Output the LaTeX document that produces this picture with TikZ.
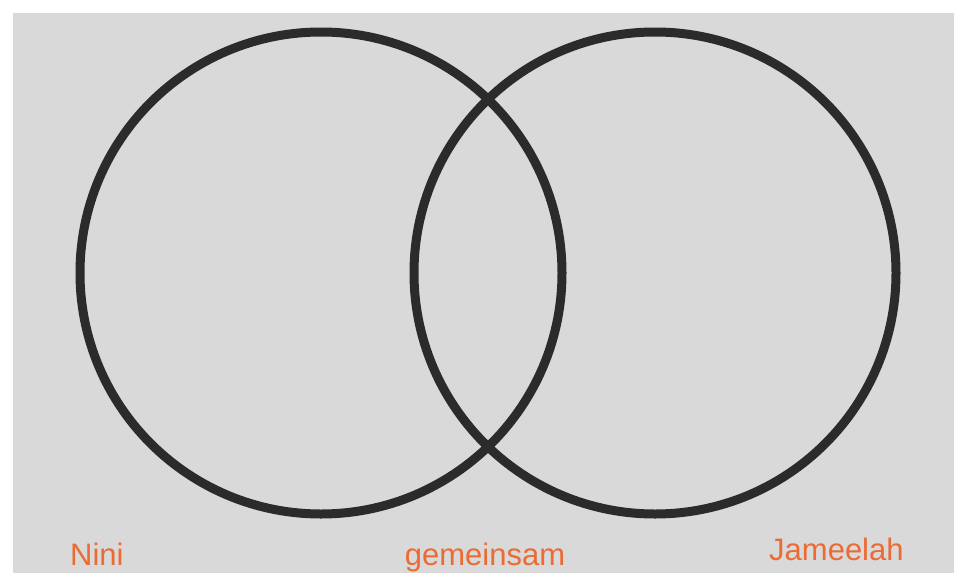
\documentclass[tikz,border=0pt]{standalone}
\usepackage{fontspec}
\setmainfont{Liberation Sans}
\usepackage{xcolor}
\usetikzlibrary{positioning}
\definecolor{bg}{HTML}{D9D9D9}
\definecolor{ring}{HTML}{2B2B2B}
\definecolor{lbl}{HTML}{EB6B34}

\begin{document}
\begin{tikzpicture}[x=1pt,y=-1pt,
    venn/.style={circle,draw=ring,line width=9pt,inner sep=0pt,minimum size=482pt},
    setlabel/.style={text=lbl,font=\fontsize{31}{31}\selectfont,inner sep=0pt}]
  % canvas
  \useasboundingbox (0,0) rectangle (954,573);
  \fill[bg] (13,13) rectangle (954,573);
  % the two sets
  \node[venn] (nini) at (321,273) {};
  \node[venn] (jameelah) at (655,273) {};
  % labels
  \node[setlabel,anchor=base west] (lnini) at (70,565) {Nini};
  \node[setlabel,anchor=base] (lboth) at (485,565) {gemeinsam};
  \node[setlabel,anchor=base west] (ljam) at (769,560) {Jameelah};
\end{tikzpicture}
\end{document}
